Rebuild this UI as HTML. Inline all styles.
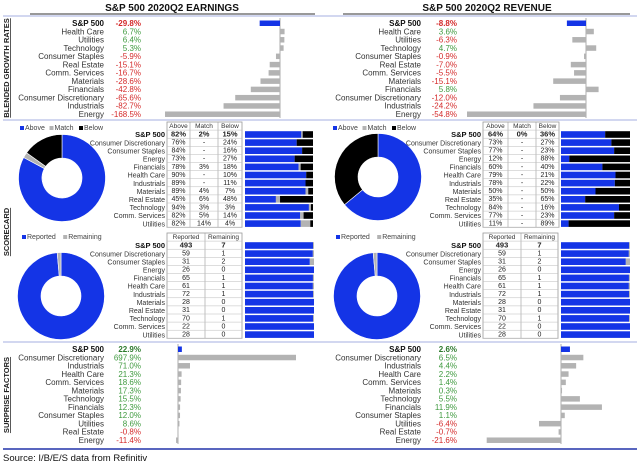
<!DOCTYPE html>
<html><head><meta charset="utf-8">
<style>
html,body{margin:0;padding:0;background:#fff;}
svg{display:block;font-family:"Liberation Sans",Arial,sans-serif;}
</style></head>
<body>
<svg id="chart" width="640" height="466" viewBox="0 0 640 466" xmlns="http://www.w3.org/2000/svg"></svg>
<script>
const earnCats=["S&P 500","Health Care","Utilities","Technology","Consumer Staples","Real Estate","Comm. Services","Materials","Financials","Consumer Discretionary","Industrials","Energy"];
const earnVals=[-29.8,6.7,6.4,5.3,-5.9,-15.1,-16.7,-28.6,-42.8,-65.6,-82.7,-168.5];
const revCats=["S&P 500","Health Care","Utilities","Technology","Consumer Staples","Real Estate","Comm. Services","Materials","Financials","Consumer Discretionary","Industrials","Energy"];
const revVals=[-8.8,3.6,-6.3,4.7,-0.9,-7.0,-5.5,-15.1,5.8,-12.0,-24.2,-54.8];
const scoreCats=["S&P 500","Consumer Discretionary","Consumer Staples","Energy","Financials","Health Care","Industrials","Materials","Real Estate","Technology","Comm. Services","Utilities"];
const epsAbove=[82,76,84,73,78,90,89,89,45,94,82,82];
const epsMatch=[2,0,0,0,3,0,0,4,6,3,5,14];
const epsBelow=[15,24,16,27,18,10,11,7,48,3,14,4];
const revAbove=[64,73,77,12,60,79,78,50,35,84,77,11];
const revMatch=[0,0,0,0,0,0,0,0,0,0,0,0];
const revBelow=[36,27,23,88,40,21,22,50,65,16,23,89];
const reported=[493,59,31,26,65,61,72,28,31,70,22,28];
const remaining=[7,1,2,0,1,1,1,0,0,1,0,0];
const surpCats=["S&P 500","Consumer Discretionary","Industrials","Health Care","Comm. Services","Materials","Technology","Financials","Consumer Staples","Utilities","Real Estate","Energy"];
const revSurpCats=["S&P 500","Consumer Discretionary","Industrials","Health Care","Comm. Services","Materials","Technology","Financials","Consumer Staples","Utilities","Real Estate","Energy"];
const epsSurp=[22.9,697.9,71.0,21.3,18.6,17.3,15.5,12.3,12.0,8.6,-0.8,-11.4];
const revSurp=[2.6,6.5,4.4,2.2,1.4,0.3,5.5,11.9,1.1,-6.4,-0.7,-21.6];

const BLUE="#1434e6",GRAY="#b3b3b3",GREEN="#3f9a3f",RED="#d42a2a";
const svg=document.getElementById('chart');
const NS="http://www.w3.org/2000/svg";
function el(tag,attrs){const e=document.createElementNS(NS,tag);for(const k in attrs)e.setAttribute(k,attrs[k]);svg.appendChild(e);return e;}
function txt(x,y,s,size,anchor,fill,bold){const t=el('text',{x:x,y:y,'font-size':size,'text-anchor':anchor||'start',fill:fill||'#222'});if(bold)t.setAttribute('font-weight','bold');t.textContent=s;return t;}

let t=txt(172,11,"S&P 500 2020Q2 EARNINGS",10,'middle','#111',true);


t=txt(487,11,"S&P 500 2020Q2 REVENUE",10,'middle','#111',true);


let l=el('line',{x1:30,y1:14,x2:315,y2:14,stroke:'#333','stroke-width':1});


l=el('line',{x1:343,y1:14,x2:630,y2:14,stroke:'#333','stroke-width':1});


[16,120,342].forEach(y=>{const s=el('line',{x1:3,y1:y,x2:637,y2:y,stroke:'#b8bfe8','stroke-width':1.2});

});
l=el('line',{x1:3,y1:449,x2:637,y2:449,stroke:'#2233aa','stroke-width':1.5});



function vlabel(cx,cy,s,name){const v=el('text',{x:0,y:0,'font-size':7.5,'font-weight':'bold','text-anchor':'middle',fill:'#222','text-decoration':'underline',transform:`translate(${cx},${cy}) rotate(-90)`});v.textContent=s;

}
vlabel(9,68,"BLENDED GROWTH RATES",'growth-section-label');
vlabel(9,232,"SCORECARD",'scorecard-section-label');
vlabel(9,395,"SURPRISE FACTORS",'surprise-section-label');

function fmt(v){return v.toFixed(1)+"%";}
function barPanel(cats,vals,labelX,valX,zeroX,scale,y0,step,prefix){
  const ax=el('line',{x1:zeroX,y1:y0-5,x2:zeroX,y2:y0+step*(cats.length-1)+4,stroke:'#999','stroke-width':0.8});
  
  
  cats.forEach((c,i)=>{
    const y=y0+i*step;
    const lt=txt(labelX,y+3,c,8,'end',i===0?'#111':'#333',i===0);
    
    
    const v=vals[i];
    const vt=txt(valX,y+3,fmt(v),8,'end',i===0?(v<0?RED:'#2d7a2d'):(v<0?RED:GREEN),i===0);
    
    
    const w=Math.abs(v)*scale;
    const b=el('rect',{x:v<0?zeroX-w:zeroX,y:y-2.5,width:Math.max(w,0.6),height:5.5,fill:i===0?BLUE:GRAY});
    
    
  });
}
barPanel(earnCats,earnVals,104,141,280,115/168.5,23,8.27,'earnings-growth');
barPanel(revCats,revVals,421,457,586,119/54.8,23,8.27,'revenue-growth');
barPanel(surpCats,epsSurp,104,141,178,118/697.9,349,8.27,'earnings-surprise');
barPanel(revSurpCats,revSurp,421,457,561,3.44,349,8.27,'revenue-surprise');

function arc(cx,cy,r0,r1,a0,a1){
  const p=(r,a)=>[cx+r*Math.sin(a),cy-r*Math.cos(a)];
  const large=(a1-a0)>Math.PI?1:0;
  const [x0,y0]=p(r1,a0),[x1,y1]=p(r1,a1),[x2,y2]=p(r0,a1),[x3,y3]=p(r0,a0);
  return `M${x0},${y0}A${r1},${r1} 0 ${large} 1 ${x1},${y1}L${x2},${y2}A${r0},${r0} 0 ${large} 0 ${x3},${y3}Z`;
}
function donut(cx,cy,parts,colors,prefix){
  const tot=parts.reduce((a,b)=>a+b,0);let a=0;
  parts.forEach((p,i)=>{
    if(p<=0)return;
    const a1=a+p/tot*2*Math.PI;
    const d=el('path',{d:arc(cx,cy,20,43.5,a,Math.min(a1,a+2*Math.PI-0.0001)),fill:colors[i],stroke:'#fff','stroke-width':0.6});
    
    
    a=a1;
  });
}
function legend(x,y,items,colors,prefix){
  let cx=x;
  items.forEach((s,i)=>{
    const r=el('rect',{x:cx,y:y-4,width:4,height:4,fill:colors[i]});
    
    
    const tt=txt(cx+5,y,s,7,'start','#444');
    
    
    cx+=s.length*3.9+10;
  });
}
function table(x,y0,step,cols,colW,headers,rows,prefix){
  const totalW=colW.reduce((a,b)=>a+b,0);
  const H=step*(rows.length+1);
  const bg=el('rect',{x:x,y:y0,width:totalW,height:H,fill:'#fff',stroke:'#999','stroke-width':0.8});
  
  
  let cx=x;
  headers.forEach((h,j)=>{
    const ht=txt(cx+colW[j]/2,y0+step-2,h,6.5,'middle','#333');
    
    
    cx+=colW[j];
    if(j<headers.length-1){const vl=el('line',{x1:cx,y1:y0,x2:cx,y2:y0+H,stroke:'#999','stroke-width':0.6});
      
      }
  });
  for(let i=0;i<=rows.length;i++){
    const hl=el('line',{x1:x,y1:y0+step*(i+1),x2:x+totalW,y2:y0+step*(i+1),stroke:'#bbb','stroke-width':0.5});
    
    
  }
  rows.forEach((r,i)=>{
    let cx=x;
    r.forEach((s,j)=>{
      const ct=txt(cx+colW[j]/2,y0+step*(i+2)-1.8,s,i===0?7.5:7,'middle','#222',i===0);
      
      
      cx+=colW[j];
    });
  });
}
function stackBars(x,y0,step,w,series,colors,prefix){
  series[0].forEach((_,i)=>{
    const tot=series.reduce((a,s)=>a+s[i],0);let cx=x;
    series.forEach((s,k)=>{
      const ww=s[i]/tot*w;
      if(ww<=0)return;
      const b=el('rect',{x:cx,y:y0+i*step-3,width:ww,height:6.6,fill:colors[k]});
      
      
      cx+=ww;
    });
  });
}
function scoreLabels(x,y0,step,prefix){
  scoreCats.forEach((c,i)=>{
    const lt=txt(x,y0+i*step+3,c,i===0?7.5:7,'end',i===0?'#111':'#333',i===0);
    
    
  });
}
const pct=v=>v+"%";
const step=8.1;
legend(20,130,["Above","Match","Below"],[BLUE,GRAY,"#000"],'eps-beat');
donut(62,178,[epsAbove[0],epsMatch[0],epsBelow[0]],[BLUE,GRAY,"#000"],'eps-beat-donut');
table(167,122,step,3,[23,28,24],["Above","Match","Below"],scoreCats.map((_,i)=>[pct(epsAbove[i]),(epsMatch[i]||i===0)?pct(epsMatch[i]):"-",pct(epsBelow[i])]),'eps-beat');
scoreLabels(165,134.2,step,'eps-beat');
stackBars(245,134.2,step,68,[epsAbove,epsMatch,epsBelow],[BLUE,GRAY,"#000"],'eps-beat');
legend(333,130,["Above","Match","Below"],[BLUE,GRAY,"#000"],'rev-beat');
donut(378,177,[revAbove[0],revMatch[0],revBelow[0]],[BLUE,GRAY,"#000"],'rev-beat-donut');
table(483,122,step,3,[25,28,23],["Above","Match","Below"],scoreCats.map((_,i)=>[pct(revAbove[i]),(revMatch[i]||i===0)?pct(revMatch[i]):"-",pct(revBelow[i])]),'rev-beat');
scoreLabels(481,134.2,step,'rev-beat');
stackBars(561,134.2,step,69,[revAbove,revMatch,revBelow],[BLUE,GRAY,"#000"],'rev-beat');
legend(22,239,["Reported","Remaining"],[BLUE,GRAY],'eps-reported');
donut(61,296,[reported[0],remaining[0]],[BLUE,GRAY],'eps-reported-donut');
table(167,233,step,2,[38,37],["Reported","Remaining"],scoreCats.map((_,i)=>[String(reported[i]),String(remaining[i])]),'eps-reported');
scoreLabels(165,245.2,step,'eps-reported');
stackBars(245,245.2,step,69,[reported,remaining],[BLUE,GRAY],'eps-reported');
legend(336,239,["Reported","Remaining"],[BLUE,GRAY],'rev-reported');
donut(377,296,[reported[0],remaining[0]],[BLUE,GRAY],'rev-reported-donut');
table(483,233,step,2,[38,37],["Reported","Remaining"],scoreCats.map((_,i)=>[String(reported[i]),String(remaining[i])]),'rev-reported');
scoreLabels(481,245.2,step,'rev-reported');
stackBars(561,245.2,step,69,[reported,remaining],[BLUE,GRAY],'rev-reported');

t=txt(3,461,"Source: I/B/E/S data from Refinitiv",9.5,'start','#111');


</script>
</body></html>
